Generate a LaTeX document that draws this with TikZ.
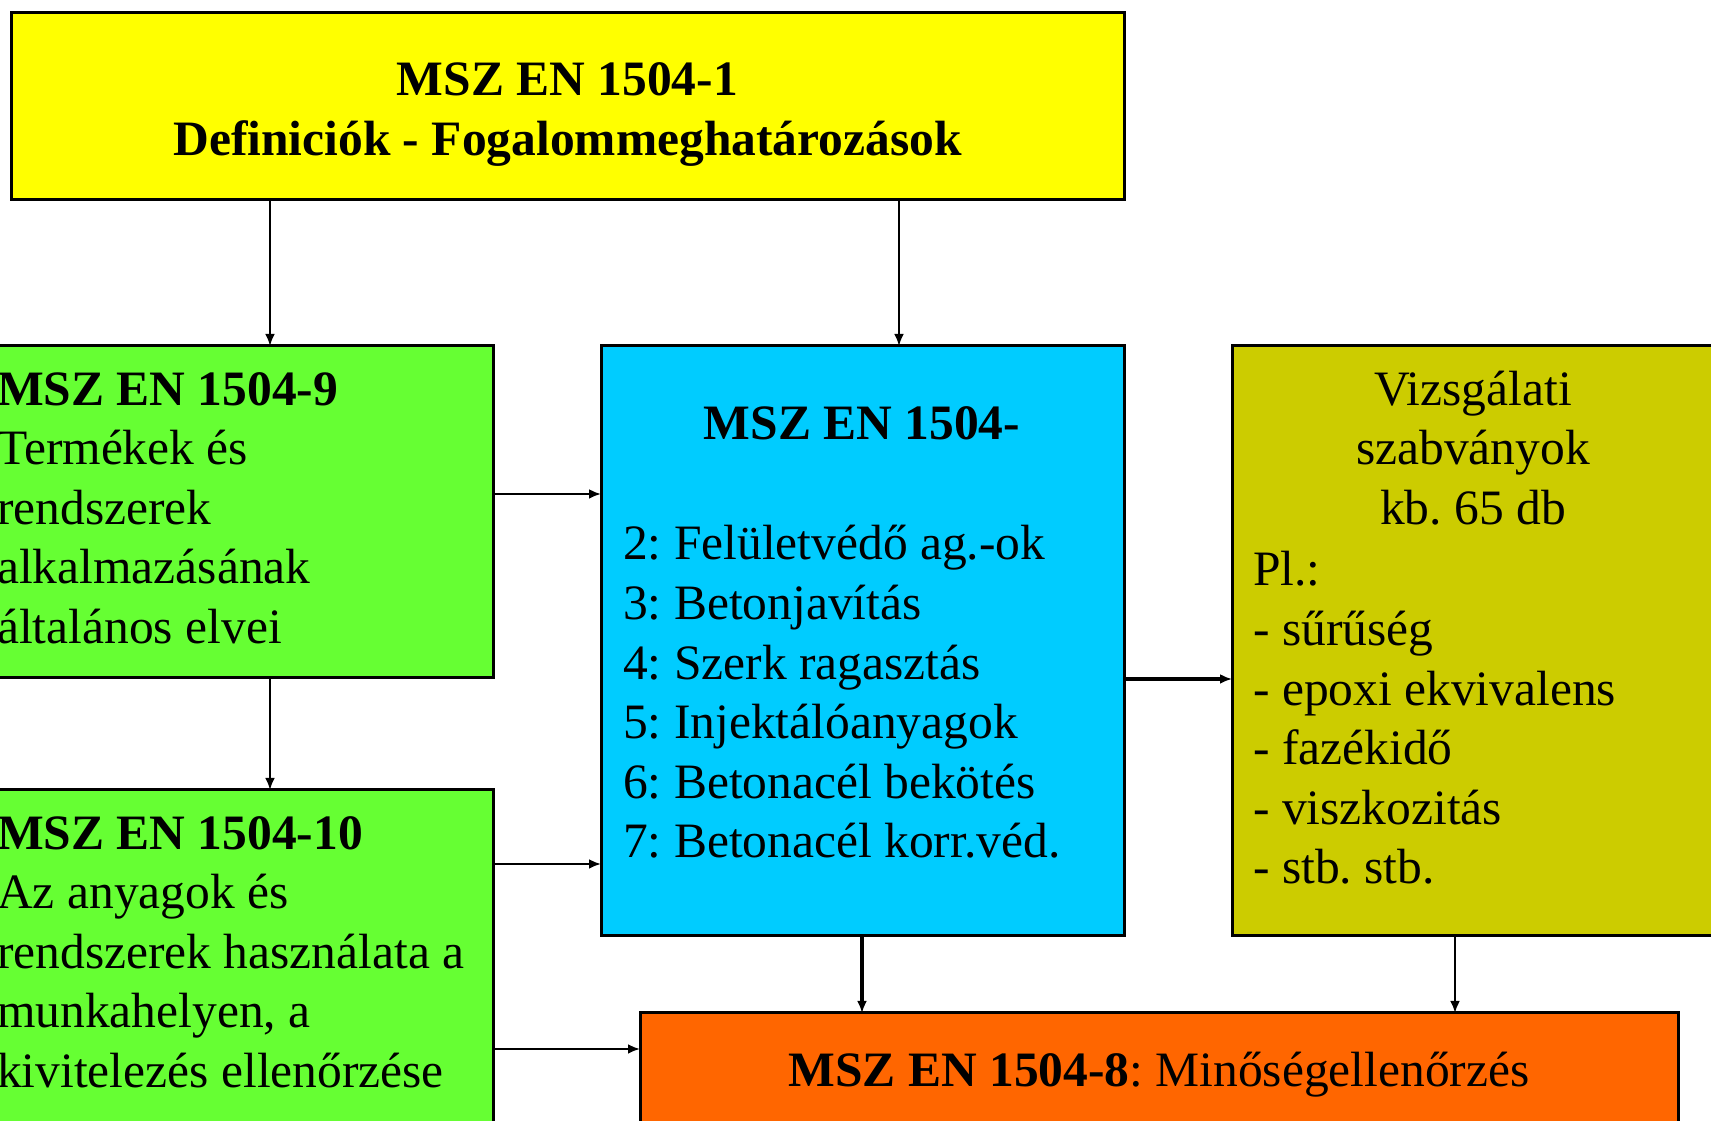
\documentclass[tikz,border=0pt]{standalone}
\usepackage{fontspec}
\setmainfont{Liberation Serif}
\usetikzlibrary{arrows.meta}
\definecolor{cyel}{HTML}{FFFF00}
\definecolor{cgrn}{HTML}{66FF33}
\definecolor{cblu}{HTML}{00CCFF}
\definecolor{coli}{HTML}{CCCC00}
\definecolor{corg}{HTML}{FF6600}
\frenchspacing
\begin{document}
\begin{tikzpicture}[x=1pt,y=1pt,
  box/.style={draw=black,line width=3pt,inner sep=0pt,outer sep=0pt},
  txt/.style={font=\fontsize{49.5}{59.6}\selectfont,inner sep=0pt,align=left},
  btxt/.style={font=\fontsize{49.5}{60}\selectfont\bfseries,inner sep=0pt,align=center},
  arr/.style={draw=black,line width=2.5pt,-{Latex[length=12pt,width=10pt]}}]
\useasboundingbox (0,0) rectangle (1711,1121);
\clip (0,0) rectangle (1711,1121);
% boxes
\node[box,fill=cyel,minimum width=1113pt,minimum height=187pt] (yellow) at (567.5,1014.5) {};
\node[box,fill=cgrn,minimum width=513pt,minimum height=332pt] (green1) at (236.5,609) {};
\node[box,fill=cgrn,minimum width=513pt,minimum height=350pt] (green2) at (236.5,156) {};
\node[box,fill=cblu,minimum width=523pt,minimum height=590pt] (blue) at (862.5,480) {};
\node[box,fill=coli,minimum width=498pt,minimum height=590pt] (olive) at (1481,480) {};
\node[box,fill=corg,minimum width=1038pt,minimum height=127pt] (orange) at (1159,44.5) {};
% texts
\node[btxt] (yellowtxt) at (567.5,1006) {MSZ EN 1504-1\\Definiciók - Fogalommeghatározások};
\node[txt,anchor=west] (g1txt) at (-3,613) {\textbf{MSZ EN 1504-9}\\Termékek és\\rendszerek\\alkalmazásának\\általános elvei};
\node[txt,anchor=west] (g2txt) at (-3,169) {\textbf{MSZ EN 1504-10}\\Az anyagok és\\rendszerek használata a\\munkahelyen, a\\kivitelezés ellenőrzése};
\node[btxt] (bluetitle) at (862,698) {MSZ EN 1504-};
\node[txt,anchor=west] (bluelist) at (623,429) {2: Felületvédő ag.-ok\\3: Betonjavítás\\4: Szerk ragasztás\\5: Injektálóanyagok\\6: Betonacél bekötés\\7: Betonacél korr.véd.};
\node[txt,align=center] (olivehead) at (1473,673) {Vizsgálati\\szabványok\\kb. 65 db};
\node[txt,anchor=west] (olivelist) at (1253,403) {Pl.:\\- sűrűség\\- epoxi ekvivalens\\- fazékidő\\- viszkozitás\\- stb. stb.};
\node[txt] (orangetxt) at (1159,46) {\textbf{MSZ EN 1504-8}: Minőségellenőrzés};
% connectors
\draw[arr] ([xshift=259pt]yellow.south west) -- ([xshift=33.5pt]green1.north);
\draw[arr] ([xshift=888pt]yellow.south west) -- ([xshift=36.5pt]blue.north);
\draw[arr] ([yshift=18pt]green1.east) -- ([yshift=147pt]blue.west);
\draw[arr] ([xshift=33.5pt]green1.south) -- ([xshift=33.5pt]green2.north);
\draw[arr] ([yshift=101pt]green2.east) -- ([yshift=-223pt]blue.west);
\draw[arr] ([yshift=-84pt]green2.east) -- ([yshift=27.5pt]orange.west);
\draw[arr,line width=3.5pt] ([yshift=-38pt]blue.east) -- ([yshift=-38pt]olive.west);
\draw[arr,line width=4.5pt] ([xshift=-0.5pt]blue.south) -- ([xshift=-297pt]orange.north);
\draw[arr] ([xshift=-26pt]olive.south) -- ([xshift=296pt]orange.north);
\end{tikzpicture}
\end{document}
